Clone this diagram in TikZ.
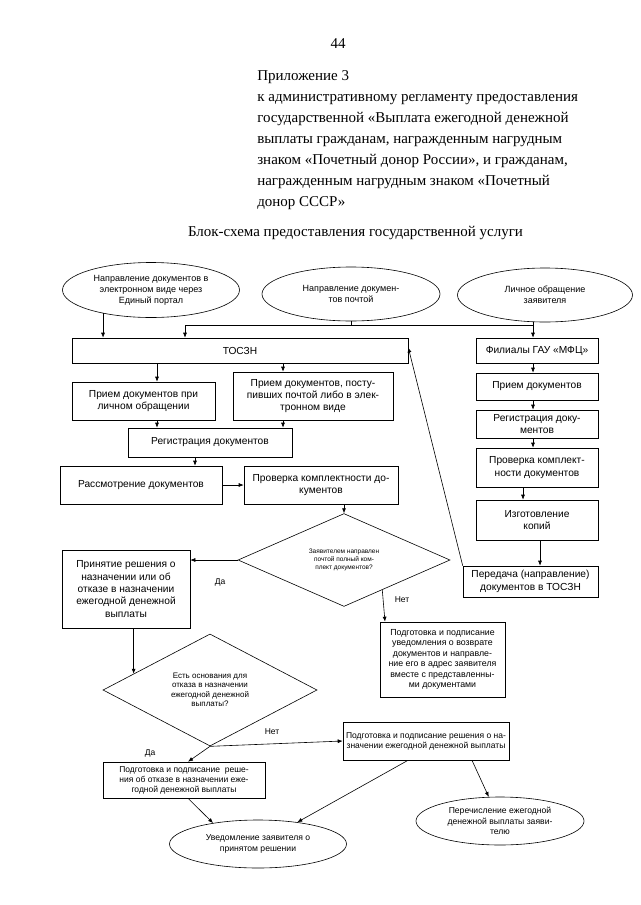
\documentclass[tikz,border=0pt]{standalone}
\usepackage{fontspec}
\setmainfont{Liberation Serif}
\setsansfont{Liberation Sans}
\usetikzlibrary{arrows.meta,shapes.geometric}

\begin{document}
\begin{tikzpicture}[x=1pt,y=-1pt,line width=0.6pt,
  boxnode/.style={draw, font=\sffamily\fontsize{10.2}{12.3}\selectfont, align=center, inner sep=1pt},
  smallbox/.style={draw, font=\sffamily\fontsize{8.5}{10}\selectfont, align=center, inner sep=1pt},
  ovalnode/.style={draw, ellipse, font=\sffamily\fontsize{9}{11}\selectfont, align=center, inner sep=0pt},
  decnode/.style={draw, diamond, align=center, inner sep=0pt},
  lbl/.style={font=\sffamily\fontsize{8.5}{10}\selectfont},
  arr/.style={-{Latex[length=5pt,width=4pt]}}]
\useasboundingbox (0,0) rectangle (640,905);
% Header
\node[font=\fontsize{15}{18}\selectfont] (pg) at (338,44) {44};
\node[anchor=north west, inner sep=0pt, align=left, font=\fontsize{15}{21}\selectfont] (app) at (257,70)
  {Приложение 3\\к административному регламенту предоставления\\государственной «Выплата ежегодной денежной\\выплаты гражданам, награжденным нагрудным\\знаком «Почетный донор России», и гражданам,\\награжденным нагрудным знаком «Почетный\\донор СССР»};
\node[font=\fontsize{15}{18}\selectfont] (title) at (355.5,233) {Блок-схема предоставления государственной услуги};
% Sources
\node[ovalnode, minimum width=177pt, minimum height=55pt] (e1) at (151,290) {Направление документов в\\электронном виде через\\Единый портал};
\node[ovalnode, minimum width=178pt, minimum height=54pt] (e2) at (351,294) {Направление докумен-\\тов почтой};
\node[ovalnode, minimum width=175pt, minimum height=54pt] (e3) at (545,295) {Личное обращение\\заявителя};
% Center column
\node[boxnode, minimum width=336pt, minimum height=25pt] (tos) at (240,350.5) {ТОСЗН};
\node[boxnode, minimum width=143pt, minimum height=38pt] (p1) at (143.5,401) {Прием документов при\\личном обращении};
\node[boxnode, minimum width=160pt, minimum height=48pt] (p2) at (313,396) {Прием документов, посту-\\пивших почтой либо в элек-\\тронном виде};
\node[boxnode, minimum width=164pt, minimum height=29pt] (reg) at (210,442.5) {Регистрация документов};
\node[boxnode, minimum width=162pt, minimum height=38pt] (ras) at (141,485) {Рассмотрение документов};
\node[boxnode, minimum width=154pt, minimum height=38pt] (chk) at (321,485) {Проверка комплектности до-\\кументов};
% Right column
\node[boxnode, minimum width=122pt, minimum height=25pt] (fil) at (537,350.5) {Филиалы ГАУ «МФЦ»};
\node[boxnode, minimum width=122pt, minimum height=27pt] (r1) at (537,386.5) {Прием документов};
\node[boxnode, minimum width=122pt, minimum height=28pt] (r2) at (537,424) {Регистрация доку-\\ментов};
\node[boxnode, minimum width=122pt, minimum height=39pt] (r3) at (537,467.5) {Проверка комплект-\\ности документов};
\node[boxnode, minimum width=122pt, minimum height=40pt] (r4) at (537,520) {Изготовление\\копий};
\node[boxnode, minimum width=135pt, minimum height=31pt] (r5) at (530.5,581.5) {Передача (направление)\\документов в ТОСЗН};
% Decisions
\node[decnode, font=\sffamily\fontsize{6.5}{8.3}\selectfont, minimum width=212pt, minimum height=86pt] (d1) at (344,560) {Заявителем направлен\\почтой полный ком-\\плект документов?};
\node[boxnode, minimum width=128pt, minimum height=78pt] (dec) at (126,589) {Принятие решения о\\назначении или об\\отказе в назначении\\ежегодной денежной\\выплаты};
\node[smallbox, font=\sffamily\fontsize{8.8}{10.5}\selectfont, minimum width=125pt, minimum height=75pt] (ret) at (442.5,659.5) {Подготовка и подписание\\уведомления о возврате\\документов и направле-\\ние его в адрес заявителя\\вместе с представленны-\\ми документами};
\node[decnode, font=\sffamily\fontsize{8}{9.5}\selectfont, minimum width=214pt, minimum height=86pt] (d2) at (210,690) {Есть основания для\\отказа в назначении\\ежегодной денежной\\выплаты?};
\node[smallbox, minimum width=162pt, minimum height=36pt] (ref) at (184,780) {Подготовка и подписание \ реше-\\ния об отказе в назначении еже-\\годной денежной выплаты};
\node[smallbox, minimum width=166pt, minimum height=38pt] (asg) at (426,741) {Подготовка и подписание решения о на-\\значении ежегодной денежной выплаты};
\node[ovalnode, font=\sffamily\fontsize{8.6}{10.5}\selectfont, minimum width=168pt, minimum height=48pt] (pay) at (500,821) {Перечисление ежегодной\\денежной выплаты заяви-\\телю};
\node[ovalnode, font=\sffamily\fontsize{8.6}{10.5}\selectfont, minimum width=177pt, minimum height=48pt] (note) at (258,844) {Уведомление заявителя о\\принятом решении};
% Labels
\node[lbl] (yes1) at (220,582) {Да};
\node[lbl] (no1) at (402,600) {Нет};
\node[lbl] (yes2) at (150,753) {Да};
\node[lbl] (no2) at (272,732) {Нет};
% Arrows
\coordinate (j1) at (185,325);
\coordinate (j2) at (533,325);
\draw[arr] (e1.206) -- (e1.206 |- tos.north);
\draw (e2.south) -- (e2.south |- j1);
\draw[arr] (e3.south -| j2) -- (j2 |- fil.north);
\draw[arr] (j2) -- (j1) -- (j1 |- tos.north);
\draw[arr] (tos.south -| 157,0) -- (p1.north -| 157,0);
\draw[arr] (tos.south -| 283,0) -- (p2.north -| 283,0);
\draw[arr] (p1.south -| 157,0) -- (reg.north -| 157,0);
\draw[arr] (p2.south -| 283,0) -- (reg.north -| 283,0);
\draw[arr] (reg.south -| 195,0) -- (ras.north -| 195,0);
\draw[arr] (ras.east) -- (chk.west);
\draw[arr] (chk.south -| d1.north) -- (d1.north);
\draw[arr] (fil.south -| 533,0) -- (r1.north -| 533,0);
\draw[arr] (r1.south -| 533,0) -- (r2.north -| 533,0);
\draw[arr] (r2.south -| 533,0) -- (r3.north -| 533,0);
\draw[arr] (r3.south -| 523,0) -- (r4.north -| 523,0);
\draw[arr] (r4.south -| 540,0) -- (r5.north -| 540,0);
% Back to TOSZN
\draw[arr] (r5.north west) -- ([yshift=3pt]tos.east);
\draw[arr] (d1.west) -- (d1.west -| dec.east);
\draw[arr] (d1.322) -- (ret.north -| 385,0);
\draw[arr] (dec.south -| d2.168) -- (d2.168);
\draw[arr] (d2.south) -- (ref.north -| 188,0);
\draw[arr] (d2.south) -- (asg.west);
\draw[arr] (ref.south -| 188,0) -- (note.155);
\draw[arr] (asg.south -| 408,0) -- (note.29);
\draw[arr] (asg.south -| 472,0) -- (pay.115);
\end{tikzpicture}
\end{document}
